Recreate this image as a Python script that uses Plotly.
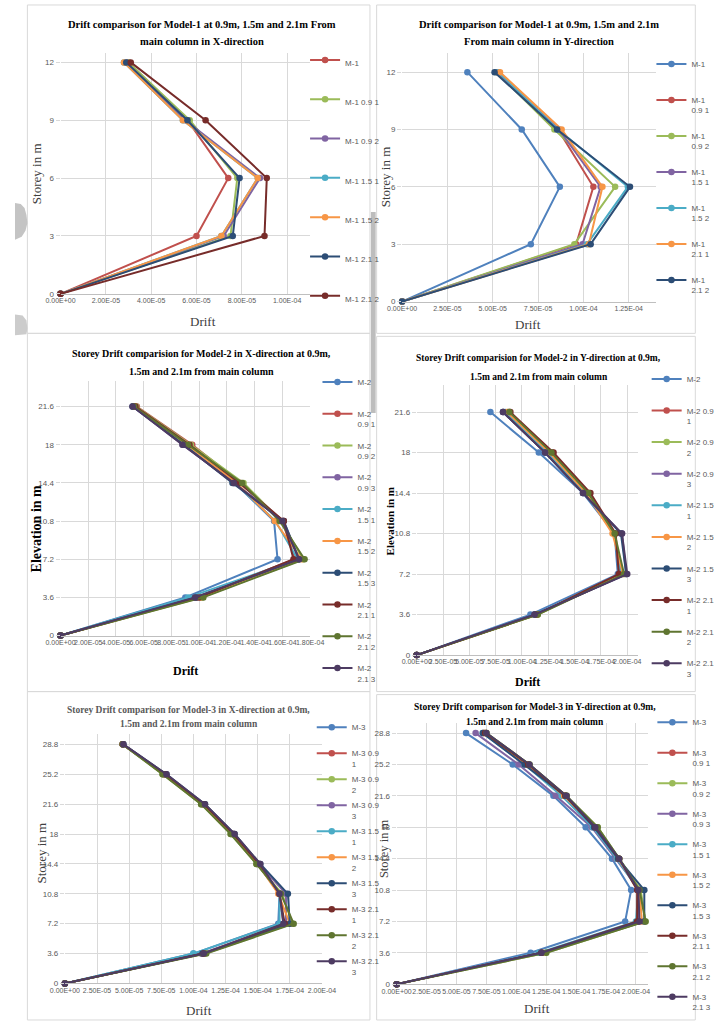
import plotly.graph_objects as go

# ---------------- data ----------------
storey_m1 = [0, 3, 6, 9, 12]
storey_m2 = [0, 3.6, 7.2, 10.8, 14.4, 18, 21.6]
storey_m3 = [0, 3.6, 7.2, 10.8, 14.4, 18, 21.6, 25.2, 28.8]

m1x_names = ["M-1", "M-1 0.9 1", "M-1 0.9 2", "M-1 1.5 1", "M-1 1.5 2", "M-1 2.1 1", "M-1 2.1 2"]
m1x_drift = [
    [0, 6.0e-5, 7.4e-5, 5.6e-5, 3.0e-5],
    [0, 7.5e-5, 7.8e-5, 5.7e-5, 3.0e-5],
    [0, 7.2e-5, 8.8e-5, 5.5e-5, 2.9e-5],
    [0, 7.1e-5, 8.7e-5, 5.4e-5, 2.8e-5],
    [0, 7.1e-5, 8.7e-5, 5.4e-5, 2.8e-5],
    [0, 7.6e-5, 7.9e-5, 5.6e-5, 2.9e-5],
    [0, 9.0e-5, 9.1e-5, 6.4e-5, 3.1e-5],
]

m1y_names = ["M-1<br> ", "M-1<br>0.9 1", "M-1<br>0.9 2", "M-1<br>1.5 1", "M-1<br>1.5 2",
             "M-1<br>2.1 1", "M-1<br>2.1 2"]
m1y_drift = [
    [0, 7.1e-5, 8.7e-5, 6.6e-5, 3.6e-5],
    [0, 9.6e-5, 1.055e-4, 8.6e-5, 5.3e-5],
    [0, 9.5e-5, 1.175e-4, 8.4e-5, 5.2e-5],
    [0, 9.95e-5, 1.095e-4, 8.65e-5, 5.25e-5],
    [0, 1.02e-4, 1.245e-4, 8.6e-5, 5.3e-5],
    [0, 1.03e-4, 1.105e-4, 8.8e-5, 5.4e-5],
    [0, 1.04e-4, 1.257e-4, 8.55e-5, 5.1e-5],
]

m2x_names = ["M-2<br> ", "M-2<br>0.9 1", "M-2<br>0.9 2", "M-2<br>0.9 3", "M-2<br>1.5 1",
             "M-2<br>1.5 2", "M-2<br>1.5 3", "M-2<br>2.1 1", "M-2<br>2.1 2", "M-2<br>2.1 3"]
m2x_drift = [
    [0, 9.0e-5, 1.565e-4, 1.54e-4, 1.255e-4, 8.9e-5, 5.3e-5],
    [0, 9.8e-5, 1.69e-4, 1.60e-4, 1.30e-4, 9.5e-5, 5.5e-5],
    [0, 1.02e-4, 1.75e-4, 1.59e-4, 1.32e-4, 9.4e-5, 5.45e-5],
    [0, 9.7e-5, 1.72e-4, 1.61e-4, 1.25e-4, 8.8e-5, 5.2e-5],
    [0, 9.2e-5, 1.71e-4, 1.55e-4, 1.26e-4, 8.9e-5, 5.25e-5],
    [0, 1.01e-4, 1.74e-4, 1.545e-4, 1.27e-4, 9.1e-5, 5.35e-5],
    [0, 9.8e-5, 1.72e-4, 1.61e-4, 1.24e-4, 8.9e-5, 5.2e-5],
    [0, 1.0e-4, 1.68e-4, 1.61e-4, 1.29e-4, 9.3e-5, 5.4e-5],
    [0, 1.03e-4, 1.76e-4, 1.58e-4, 1.31e-4, 9.2e-5, 5.3e-5],
    [0, 9.7e-5, 1.72e-4, 1.60e-4, 1.25e-4, 8.8e-5, 5.2e-5],
]

m2y_names = ["M-2<br> ", "M-2 0.9<br>1", "M-2 0.9<br>2", "M-2 0.9<br>3", "M-2 1.5<br>1",
             "M-2 1.5<br>2", "M-2 1.5<br>3", "M-2 2.1<br>1", "M-2 2.1<br>2", "M-2 2.1<br>3"]
m2y_drift = [
    [0, 1.08e-4, 1.91e-4, 1.88e-4, 1.58e-4, 1.16e-4, 7.0e-5],
    [0, 1.14e-4, 1.93e-4, 1.88e-4, 1.64e-4, 1.29e-4, 8.8e-5],
    [0, 1.15e-4, 1.95e-4, 1.87e-4, 1.63e-4, 1.27e-4, 8.7e-5],
    [0, 1.12e-4, 1.99e-4, 1.95e-4, 1.58e-4, 1.22e-4, 8.2e-5],
    [0, 1.13e-4, 1.94e-4, 1.88e-4, 1.60e-4, 1.24e-4, 8.4e-5],
    [0, 1.14e-4, 1.96e-4, 1.86e-4, 1.61e-4, 1.26e-4, 8.6e-5],
    [0, 1.12e-4, 1.99e-4, 1.94e-4, 1.58e-4, 1.22e-4, 8.2e-5],
    [0, 1.14e-4, 1.92e-4, 1.89e-4, 1.65e-4, 1.30e-4, 8.9e-5],
    [0, 1.15e-4, 1.97e-4, 1.88e-4, 1.63e-4, 1.28e-4, 8.8e-5],
    [0, 1.12e-4, 2.0e-4, 1.95e-4, 1.58e-4, 1.22e-4, 8.2e-5],
]

m3x_names = ["M-3<br> ", "M-3 0.9<br>1", "M-3 0.9<br>2", "M-3 0.9<br>3", "M-3 1.5<br>1",
             "M-3 1.5<br>2", "M-3 1.5<br>3", "M-3 2.1<br>1", "M-3 2.1<br>2", "M-3 2.1<br>3"]
m3x_drift = [
    [0, 1.0e-4, 1.66e-4, 1.67e-4, 1.50e-4, 1.30e-4, 1.07e-4, 7.7e-5, 4.5e-5],
    [0, 1.07e-4, 1.70e-4, 1.67e-4, 1.51e-4, 1.31e-4, 1.08e-4, 7.8e-5, 4.5e-5],
    [0, 1.09e-4, 1.77e-4, 1.69e-4, 1.49e-4, 1.29e-4, 1.06e-4, 7.6e-5, 4.5e-5],
    [0, 1.06e-4, 1.72e-4, 1.72e-4, 1.51e-4, 1.31e-4, 1.08e-4, 7.8e-5, 4.5e-5],
    [0, 1.0e-4, 1.67e-4, 1.67e-4, 1.50e-4, 1.30e-4, 1.07e-4, 7.7e-5, 4.5e-5],
    [0, 1.08e-4, 1.75e-4, 1.66e-4, 1.50e-4, 1.30e-4, 1.07e-4, 7.7e-5, 4.5e-5],
    [0, 1.07e-4, 1.75e-4, 1.735e-4, 1.52e-4, 1.32e-4, 1.09e-4, 7.9e-5, 4.55e-5],
    [0, 1.08e-4, 1.71e-4, 1.67e-4, 1.51e-4, 1.31e-4, 1.08e-4, 7.8e-5, 4.5e-5],
    [0, 1.10e-4, 1.78e-4, 1.68e-4, 1.49e-4, 1.29e-4, 1.06e-4, 7.6e-5, 4.5e-5],
    [0, 1.08e-4, 1.70e-4, 1.67e-4, 1.52e-4, 1.32e-4, 1.09e-4, 7.9e-5, 4.55e-5],
]

m3y_names = ["M-3<br> ", "M-3<br>0.9 1", "M-3<br>0.9 2", "M-3<br>0.9 3", "M-3<br>1.5 1",
             "M-3<br>1.5 2", "M-3<br>1.5 3", "M-3<br>2.1 1", "M-3<br>2.1 2", "M-3<br>2.1 3"]
m3y_drift = [
    [0, 1.12e-4, 1.91e-4, 1.96e-4, 1.80e-4, 1.58e-4, 1.31e-4, 9.7e-5, 5.8e-5],
    [0, 1.21e-4, 2.02e-4, 2.02e-4, 1.85e-4, 1.65e-4, 1.40e-4, 1.09e-4, 7.3e-5],
    [0, 1.25e-4, 2.08e-4, 2.04e-4, 1.86e-4, 1.68e-4, 1.42e-4, 1.11e-4, 7.5e-5],
    [0, 1.20e-4, 2.02e-4, 2.03e-4, 1.83e-4, 1.63e-4, 1.33e-4, 1.02e-4, 6.6e-5],
    [0, 1.19e-4, 2.00e-4, 2.02e-4, 1.84e-4, 1.64e-4, 1.38e-4, 1.07e-4, 7.2e-5],
    [0, 1.22e-4, 2.05e-4, 2.03e-4, 1.85e-4, 1.66e-4, 1.40e-4, 1.09e-4, 7.3e-5],
    [0, 1.21e-4, 2.07e-4, 2.07e-4, 1.85e-4, 1.65e-4, 1.41e-4, 1.07e-4, 7.2e-5],
    [0, 1.21e-4, 2.01e-4, 2.01e-4, 1.86e-4, 1.66e-4, 1.41e-4, 1.10e-4, 7.4e-5],
    [0, 1.25e-4, 2.08e-4, 2.03e-4, 1.86e-4, 1.68e-4, 1.42e-4, 1.11e-4, 7.5e-5],
    [0, 1.21e-4, 2.03e-4, 2.02e-4, 1.86e-4, 1.66e-4, 1.42e-4, 1.11e-4, 7.5e-5],
]

xt_m1x = [0, 2e-5, 4e-5, 6e-5, 8e-5, 1e-4]
xt_m1y = [0, 2.5e-5, 5e-5, 7.5e-5, 1e-4, 1.25e-4]
xt_m2x = [0, 2e-5, 4e-5, 6e-5, 8e-5, 1e-4, 1.2e-4, 1.4e-4, 1.6e-4, 1.8e-4]
xt_25 = [0, 2.5e-5, 5e-5, 7.5e-5, 1e-4, 1.25e-4, 1.5e-4, 1.75e-4, 2e-4]

titles = [
    ["Drift comparison for Model-1 at 0.9m, 1.5m and 2.1m From", "main column in X-direction"],
    ["Drift comparison for Model-1 at 0.9m, 1.5m and 2.1m", "From main column in Y-direction"],
    ["Storey Drift comparision for Model-2 in X-direction at 0.9m,", "1.5m and 2.1m from main column"],
    ["Storey Drift comparision for Model-2 in Y-direction at 0.9m,", "1.5m and 2.1m from main column"],
    ["Storey Drift comparison for Model-3 in X-direction at 0.9m,", "1.5m and 2.1m from main column"],
    ["Storey Drift comparison for Model-3 in Y-direction at 0.9m,", "1.5m and 2.1m from main column"],
]
y_titles = ["Storey in m", "Storey in m", "Elevation in m", "Elevation in m", "Storey in m", "Storey in m"]

COLORS = ["#4F81BD", "#C0504D", "#9BBB59", "#8064A2", "#4BACC6", "#F79646",
          "#2C4D75", "#772C2A", "#5F7530", "#4D3B62"]

# ---------------- layout geometry (pixels) ----------------
W, H = 720, 1021
def px(x): return x / W
def py(y): return 1 - y / H

panels = [
    dict(names=m1x_names, data=m1x_drift, ys=storey_m1, colors=COLORS[1:8], xt=xt_m1x, yt=storey_m1,
         xr=[0, 1.1e-4], yr=[0, 12.5], dom=(47.7, 309, 295.3, 53),
         title_xy=(196, 25, 42), tsize=10.5, tcolor="#000000",
         xtitle=(197, 323, 13, False), ytitle=(22, 174, 13, False),
         leg=(304, 57.5, 39.3), box=(13, 5, 372, 335)),
    dict(names=m1y_names, data=m1y_drift, ys=storey_m1, colors=COLORS[0:7], xt=xt_m1y, yt=storey_m1,
         xr=[0, 1.4e-4], yr=[0, 13], dom=(405.7, 671.7, 303, 53.3),
         title_xy=(549, 25, 42), tsize=10.5, tcolor="#000000",
         xtitle=(538, 326, 13, False), ytitle=(388, 178, 13, False),
         leg=(667, 61.5, 36), box=(379, 5, 713, 335)),
    dict(names=m2x_names, data=m2x_drift, ys=storey_m2, colors=COLORS, xt=xt_m2x, yt=storey_m2,
         xr=[0, 1.8e-4], yr=[0, 24], dom=(47.7, 309.3, 638.7, 383),
         title_xy=(195, 355, 373), tsize=10, tcolor="#000000",
         xtitle=(179, 674, 12, True), ytitle=(22, 531, 14, True),
         leg=(317, 381, 31.8), box=(13, 335, 372, 695)),
    dict(names=m2y_names, data=m2y_drift, ys=storey_m2, colors=COLORS, xt=xt_25, yt=storey_m2,
         xr=[0, 2.1e-4], yr=[0, 24], dom=(421, 652.7, 658.3, 387),
         title_xy=(549, 360, 379), tsize=9.5, tcolor="#000000",
         xtitle=(537, 685, 12, True), ytitle=(393, 524, 11, True),
         leg=(662, 378, 31.6), box=(379, 338, 713, 695)),
    dict(names=m3x_names, data=m3x_drift, ys=storey_m3, colors=COLORS, xt=xt_25, yt=storey_m3,
         xr=[0, 2.0e-4], yr=[0, 30], dom=(52.3, 321.7, 988.3, 738),
         title_xy=(182, 713, 728), tsize=9.5, tcolor="#595959",
         xtitle=(193, 1015, 13, False), ytitle=(28, 857, 13, False),
         leg=(311, 728, 26), box=(13, 695, 372, 1025)),
    dict(names=m3y_names, data=m3y_drift, ys=storey_m3, colors=COLORS, xt=xt_25, yt=storey_m3,
         xr=[0, 2.1e-4], yr=[0, 30], dom=(400, 663.3, 989, 726.2),
         title_xy=(545, 710, 726), tsize=9.5, tcolor="#000000",
         xtitle=(547, 1013, 13, False), ytitle=(387, 853, 12.5, False),
         leg=(668, 723, 30.5), box=(379, 698, 713, 1025)),
]

SERIF = "Liberation Serif, Times New Roman, serif"
SANS = "Liberation Sans Narrow, Liberation Sans, Arial, sans-serif"
GRID = "#D9D9D9"
TICKC = "#595959"

fig = go.Figure()
layout = dict(width=W, height=H, margin=dict(l=0, r=0, t=0, b=0),
              paper_bgcolor="white", plot_bgcolor="white", showlegend=True)
annotations = []
shapes = []

for i, p in enumerate(panels, start=1):
    xa = "x" if i == 1 else f"x{i}"
    ya = "y" if i == 1 else f"y{i}"
    lg = "legend" if i == 1 else f"legend{i}"
    for j, (name, vals) in enumerate(zip(p["names"], p["data"])):
        fig.add_trace(go.Scatter(
            x=vals, y=p["ys"], name=name, mode="lines+markers",
            line=dict(color=p["colors"][j], width=2),
            marker=dict(color=p["colors"][j], size=6.5, symbol="circle"),
            xaxis=xa, yaxis=ya, legend=lg, legendgroup=f"p{i}g{j}",
            cliponaxis=False, hoverinfo="skip"))
    x0, x1, yb, yt = p["dom"]
    layout[f"xaxis{'' if i == 1 else i}"] = dict(
        domain=[px(x0), px(x1)], anchor=ya, range=p["xr"],
        tickvals=p["xt"], ticktext=[f"{v:.2E}" for v in p["xt"]], tickangle=0,
        showgrid=True, gridcolor=GRID, gridwidth=1, zeroline=False,
        showline=True, linecolor="#BFBFBF", linewidth=1, ticks="",
        tickfont=dict(family=SANS, size=7, color=TICKC), fixedrange=True)
    layout[f"yaxis{'' if i == 1 else i}"] = dict(
        domain=[py(yb), py(yt)], anchor=xa, range=p["yr"],
        tickvals=p["yt"], ticktext=[f"{v:g}" for v in p["yt"]],
        showgrid=True, gridcolor=GRID, gridwidth=1, zeroline=False,
        showline=False, ticks="outside", ticklen=4, tickcolor=GRID,
        tickfont=dict(family=SANS, size=8, color=TICKC), fixedrange=True)
    lx, ly, sp = p["leg"]
    multi = "<br>" in p["names"][1]
    item_h = 23.8 if multi else 19
    layout[lg] = dict(
        x=px(lx), y=py(ly - 9), xanchor="left", yanchor="top",
        bgcolor="rgba(0,0,0,0)", borderwidth=0, traceorder="grouped",
        tracegroupgap=max(sp - item_h, 0), itemwidth=30, valign="top",
        font=dict(family=SANS, size=8, color=TICKC))
    tx, t1, t2 = p["title_xy"]
    for line, ty in zip(titles[i - 1], (t1, t2)):
        annotations.append(dict(
            text=f"<b>{line}</b>", x=px(tx), y=py(ty), xref="paper", yref="paper",
            xanchor="center", yanchor="middle", showarrow=False,
            font=dict(family=SERIF, size=p["tsize"], color=p["tcolor"])))
    ax, ay, asz, abold = p["xtitle"]
    annotations.append(dict(
        text="<b>Drift</b>" if abold else "Drift", x=px(ax), y=py(ay), xref="paper", yref="paper",
        xanchor="center", yanchor="middle", showarrow=False,
        font=dict(family=SERIF, size=asz, color="#000000" if abold else "#404040")))
    bx, by, bsz, bbold = p["ytitle"]
    yt_text = y_titles[i - 1]
    annotations.append(dict(
        text=f"<b>{yt_text}</b>" if bbold else yt_text, x=px(bx), y=py(by),
        xref="paper", yref="paper", xanchor="center", yanchor="middle", textangle=-90,
        showarrow=False,
        font=dict(family=SERIF, size=bsz, color="#000000" if bbold else "#404040")))
    b0, b1, b2, b3 = p["box"]
    shapes.append(dict(type="rect", xref="paper", yref="paper",
                       x0=px(b0), x1=px(b2), y0=py(b3), y1=py(b1),
                       line=dict(color=GRID, width=1), fillcolor="rgba(0,0,0,0)", layer="below"))

# scanning artefacts on the page (grey bar and page-curl blobs)
def path(points):
    return "M " + " L ".join(f"{px(a):.5f},{py(b):.5f}" for a, b in points) + " Z"

shapes.append(dict(type="rect", xref="paper", yref="paper", x0=px(373), x1=px(378),
                   y0=py(415), y1=py(213), line=dict(width=0), fillcolor="#BDBDBD"))
shapes.append(dict(type="path", xref="paper", yref="paper",
                   path=path([(0, 204), (6, 205), (10, 209), (12, 216), (13, 224), (11, 232),
                              (7, 238), (0, 241)]),
                   line=dict(width=0), fillcolor="#C4C4C4"))
shapes.append(dict(type="path", xref="paper", yref="paper",
                   path=path([(0, 316), (8, 317), (12, 322), (13, 330), (12, 336), (0, 337)]),
                   line=dict(width=0), fillcolor="#CCCCCC"))

layout["annotations"] = annotations
layout["shapes"] = shapes
fig.update_layout(**layout)

fig.write_html("out.html", config={"displayModeBar": False},
               post_script="document.body.style.margin='0';")
